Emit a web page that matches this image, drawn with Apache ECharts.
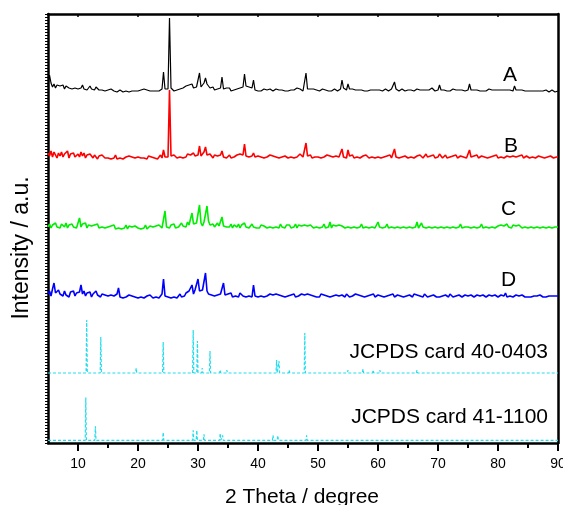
<!DOCTYPE html>
<html>
<head>
<meta charset="utf-8">
<script src="https://cdn.jsdelivr.net/npm/echarts@6/dist/echarts.min.js"></script>
<style>html,body{margin:0;padding:0;background:#fff}#c{width:563px;height:505px}</style>
</head>
<body>
<div id="c"></div>
<script>
// 2-theta grid of the measured patterns (degrees)
const thetaStart = 5, thetaStep = 0.25;
const xTicks = [10,20,30,40,50,60,70,80,90];
const xMinorTicks = [15,25,35,45,55,65,75,85];
const topTicks = [10,20,30,40,50,60,70,80];

// measured intensities (a.u., stacked offsets below)
const sampleA = [
 6,17,9,5,8,4,7,5,6,4,7,3,6,5,4,6,3,5,4,6,
 3,5,4,7,3,5,2,4,6,3,4,2,5,3,2,4,2,3,1,3,
 2,1,3,2,1,2,0,1,2,1,0,2,1,1,0,2,1,0,1,2,
 1,0,2,1,3,1,2,0,1,2,1,0,1,2,1,2,3,20,3,2,
 3,74,4,2,1,3,2,1,3,2,4,5,6,4,7,5,8,4,3,5,
 4,19,5,7,9,14,8,6,4,3,5,2,4,3,2,4,15,3,2,4,
 2,4,1,3,2,1,3,5,4,6,5,18,6,4,5,3,4,12,2,1,
 1,2,1,2,3,1,2,1,3,2,1,2,3,1,2,1,2,3,1,2,
 1,3,2,1,2,3,4,2,3,2,1,3,19,3,2,3,2,3,2,2,
 3,1,2,3,1,2,3,1,2,1,2,3,2,1,2,3,12,4,3,2,
 8,3,2,3,1,2,3,2,1,2,3,1,2,1,3,2,1,2,3,2,
 1,2,3,1,2,3,2,1,2,3,4,10,3,2,1,2,3,2,1,2,
 2,1,2,3,1,2,3,1,2,1,2,3,2,1,2,3,4,2,1,2,
 2,7,2,1,2,3,1,2,1,2,3,1,2,1,2,1,2,3,1,2,
 2,8,2,1,2,1,2,3,1,2,1,2,1,2,3,1,2,1,2,1,
 2,1,2,1,2,1,2,1,2,3,1,6,2,1,2,1,2,1,1,2,
 1,2,1,0,1,2,1,0,1,2,1,0,2,1,0,1,2,1,0,1,
 1];
const sampleB = [
 7,4,9,3,8,5,2,7,4,8,3,6,5,9,2,6,4,7,3,5,
 6,3,8,4,7,2,5,3,6,4,2,5,3,1,4,2,5,3,2,4,
 2,4,1,3,2,5,1,3,2,4,1,2,3,1,4,2,3,1,2,4,
 3,1,2,4,2,3,1,4,2,3,5,2,4,1,3,5,2,10,3,2,
 3,70,4,2,5,3,2,4,3,5,2,4,3,6,4,5,3,7,4,6,
 5,14,4,6,8,13,5,3,6,4,2,5,3,4,2,5,9,3,4,2,
 3,5,2,4,3,2,5,3,6,4,5,16,4,6,3,5,4,7,3,2,
 4,2,3,5,2,4,3,2,5,3,4,2,3,5,2,4,3,2,4,3,
 2,4,3,5,2,4,3,5,6,4,3,5,17,4,3,5,2,4,3,5,
 3,5,2,4,3,2,5,3,4,2,3,5,4,2,3,4,11,3,5,2,
 10,4,3,5,2,4,3,5,2,3,4,2,5,3,2,4,3,5,2,4,
 3,5,2,4,3,2,4,3,5,2,4,11,3,5,2,4,3,2,4,3,
 2,4,3,5,2,3,4,2,5,3,2,4,6,3,2,4,3,5,2,4,
 3,6,4,2,3,5,2,4,3,2,4,3,5,2,3,4,2,3,5,2,
 4,10,3,2,4,3,5,2,3,4,2,3,5,2,4,3,2,4,3,5,
 2,4,3,5,2,3,4,2,3,5,4,6,3,2,4,3,5,2,3,4,
 3,2,4,3,5,2,3,4,2,3,5,2,4,3,2,4,3,2,4,3,
 3];
const sampleC = [
 4,7,3,6,5,8,4,6,3,7,5,4,8,3,6,5,7,4,6,3,
 5,13,4,7,5,8,3,6,4,5,3,6,4,7,3,5,4,6,3,5,
 4,2,5,3,6,2,4,3,5,2,4,3,6,2,5,3,4,2,5,3,
 3,5,2,4,3,6,2,4,5,3,4,2,5,3,6,4,3,5,20,4,
 5,3,6,4,7,3,5,4,6,8,5,7,4,9,6,12,18,7,5,8,
 6,26,8,5,9,7,25,10,6,5,7,4,6,8,5,7,14,5,6,4,
 5,4,7,3,6,5,4,7,3,6,5,8,4,6,3,5,7,4,6,3,
 5,3,6,4,5,7,3,5,4,6,3,5,4,6,3,7,4,5,3,6,
 4,6,3,5,4,7,3,6,4,5,3,6,4,5,3,6,4,3,5,4,
 6,3,5,4,7,3,5,4,9,3,6,4,5,3,6,4,5,7,3,5,
 4,6,3,5,4,6,3,5,4,7,3,5,4,6,3,5,4,6,3,5,
 9,4,6,3,5,4,7,3,5,4,6,3,5,4,6,3,5,4,6,3,
 5,4,6,3,5,4,9,3,5,8,4,6,3,5,4,6,3,5,4,6,
 3,5,4,6,3,5,4,6,3,5,4,6,3,5,4,7,3,5,4,6,
 4,6,3,5,4,6,3,5,4,7,3,5,4,6,3,5,4,6,3,5,
 5,3,6,4,5,3,7,4,5,3,6,4,5,3,6,4,3,5,4,6,
 3,5,4,6,3,5,4,6,3,5,4,6,3,5,4,6,3,5,4,5,
 4];
const sampleD = [
 6,9,4,11,17,7,5,10,6,8,4,9,5,7,3,8,6,9,4,7,
 5,8,15,6,9,4,7,5,8,3,6,4,9,5,7,3,6,4,5,3,
 4,2,5,3,4,2,6,12,3,5,2,4,3,2,5,3,4,2,3,4,
 2,4,3,5,2,3,4,2,5,3,2,4,3,5,2,4,6,21,4,3,
 3,5,2,4,3,5,2,4,6,3,5,4,7,5,9,8,15,6,10,8,
 21,9,7,10,8,27,9,6,8,5,7,4,6,5,7,6,8,17,5,4,
 6,4,7,3,5,4,6,3,7,5,4,6,3,5,4,6,3,15,4,5,
 3,5,4,6,3,5,4,3,6,4,5,3,6,4,5,3,4,6,3,5,
 4,3,5,4,6,3,5,4,3,6,4,5,3,6,4,5,3,4,6,3,
 5,3,6,4,5,3,4,6,3,5,4,3,5,6,4,3,5,4,3,6,
 4,3,5,4,3,6,4,5,3,4,6,3,5,4,3,5,4,6,3,4,
 5,3,4,6,3,5,4,3,5,4,6,3,4,5,3,4,6,3,5,4,
 3,5,4,3,6,4,5,3,4,5,3,6,4,3,5,4,3,5,4,3,
 4,3,5,4,3,5,4,3,6,4,3,5,4,3,5,4,3,4,5,3,
 4,3,5,4,3,4,5,3,4,3,5,4,3,4,5,3,4,3,5,4,
 3,4,5,3,4,7,3,5,4,6,3,4,5,3,4,3,5,4,3,4,
 3,4,3,5,4,3,4,3,5,4,3,4,3,5,4,3,4,3,4,3,
 4];

// reference cards: peak positions (2theta) and heights
const card40Pos = [11.45,13.8,19.7,24.2,29.2,29.9,30.7,32.0,33.7,34.8,43.1,43.5,44.8,45.2,47.8,52.0,55.0,57.5,59.2,60.3,66.5];
const card40Int = [53,36,5,31,43,32,5,22,3,3,13,12,2,3,40,2,3,4,3,3,3];
const card41Pos = [11.3,12.9,24.2,29.2,29.8,31.0,33.7,34.1,42.5,43.3,48.1];
const card41Int = [43,14,8,10,10,6,7,5,5,5,5];

// vertical stacking offsets
const offsets = {A:351, B:283, C:212, D:143, card40:70, card41:2.6};
const labels = ['A','B','C','D','JCPDS card 40-0403','JCPDS card 41-1100'];

function measured(arr, off){
  return arr.map((v,i)=>[thetaStart + i*thetaStep, off + v]);
}
function card(pos, inten, off){
  const d = [[5, off]];
  const hw = 0.1;
  pos.forEach((p,i)=>{ d.push([p-hw, off]); d.push([p, off+inten[i]]); d.push([p+hw, off]); });
  d.push([90, off]);
  return d;
}

const chart = echarts.init(document.getElementById('c'), null, {renderer:'canvas'});
const font = 'Liberation Sans, Arial, sans-serif';
function line(name, data, color, width, dashed){
  return {name, type:'line', data, xAxisIndex:0, yAxisIndex:0, symbol:'none', showSymbol:false,
    animation:false, lineStyle:{color, width, type: dashed ? [3,2] : 'solid'}};
}
chart.setOption({
  animation:false,
  grid:{left:48, right:5, top:14, bottom:62, containLabel:false, outerBoundsMode:'none'},
  xAxis:[
    {type:'value', min:5, max:90, position:'bottom',
     axisLine:{show:true, onZero:false, lineStyle:{color:'#000', width:2.5}},
     axisTick:{show:true, customValues:xTicks, length:8, lineStyle:{color:'#000', width:2}},
     axisLabel:{show:true, customValues:xTicks, color:'#000', fontSize:14, fontFamily:font, margin:14, hideOverlap:false},
     splitLine:{show:false}},
    {type:'value', min:5, max:90, position:'bottom',
     axisLine:{show:false, onZero:false},
     axisTick:{show:true, customValues:xMinorTicks, length:5, lineStyle:{color:'#000', width:2}},
     axisLabel:{show:false}, splitLine:{show:false}},
    {type:'value', min:5, max:90, position:'top',
     axisLine:{show:true, onZero:false, lineStyle:{color:'#000', width:2.5}},
     axisTick:{show:true, inside:true, customValues:topTicks, length:3, lineStyle:{color:'#000', width:1.5}},
     axisLabel:{show:false}, splitLine:{show:false}}
  ],
  yAxis:[
    {type:'value', min:0, max:429, interval:33, position:'left',
     axisLine:{show:true, onZero:false, lineStyle:{color:'#000', width:2.5}},
     axisTick:{show:true, length:3, lineStyle:{color:'#000', width:1}},
     minorTick:{show:true, splitNumber:11, length:3, lineStyle:{color:'#000', width:1}},
     axisLabel:{show:false}, splitLine:{show:false}, minorSplitLine:{show:false}},
    {type:'value', min:0, max:429, position:'right',
     axisLine:{show:true, onZero:false, lineStyle:{color:'#000', width:2.5}},
     axisTick:{show:false}, axisLabel:{show:false}, splitLine:{show:false}}
  ],
  series:[
    line(labels[5], card(card41Pos, card41Int, offsets.card41), '#22DDEE', 1.2, true),
    line(labels[4], card(card40Pos, card40Int, offsets.card40), '#22DDEE', 1.2, true),
    line(labels[3], measured(sampleD, offsets.D), '#0000FF', 1.6),
    line(labels[2], measured(sampleC, offsets.C), '#00EE00', 1.6),
    line(labels[1], measured(sampleB, offsets.B), '#FF0000', 1.6),
    line(labels[0], measured(sampleA, offsets.A), '#000000', 1.2)
  ],
  graphic:[
    {type:'text', style:{x:503, y:75, text:labels[0], font:'21px '+font, fill:'#000', textVerticalAlign:'middle'}},
    {type:'text', style:{x:504, y:146, text:labels[1], font:'21px '+font, fill:'#000', textVerticalAlign:'middle'}},
    {type:'text', style:{x:501, y:209, text:labels[2], font:'21px '+font, fill:'#000', textVerticalAlign:'middle'}},
    {type:'text', style:{x:501, y:280, text:labels[3], font:'21px '+font, fill:'#000', textVerticalAlign:'middle'}},
    {type:'text', style:{x:548, y:352, text:labels[4], font:'21px '+font, fill:'#000', textAlign:'right', textVerticalAlign:'middle'}},
    {type:'text', style:{x:548, y:417, text:labels[5], font:'21px '+font, fill:'#000', textAlign:'right', textVerticalAlign:'middle'}},
    {type:'text', style:{x:302, y:497, text:'2 Theta / degree', font:'21px '+font, fill:'#000', textAlign:'center', textVerticalAlign:'middle'}},
    {type:'text', x:22, y:248, rotation:Math.PI/2, style:{x:0, y:0, text:'Intensity / a.u.', font:'23px '+font, fill:'#000', textAlign:'center', textVerticalAlign:'middle'}}
  ]
});
</script>
</body>
</html>
